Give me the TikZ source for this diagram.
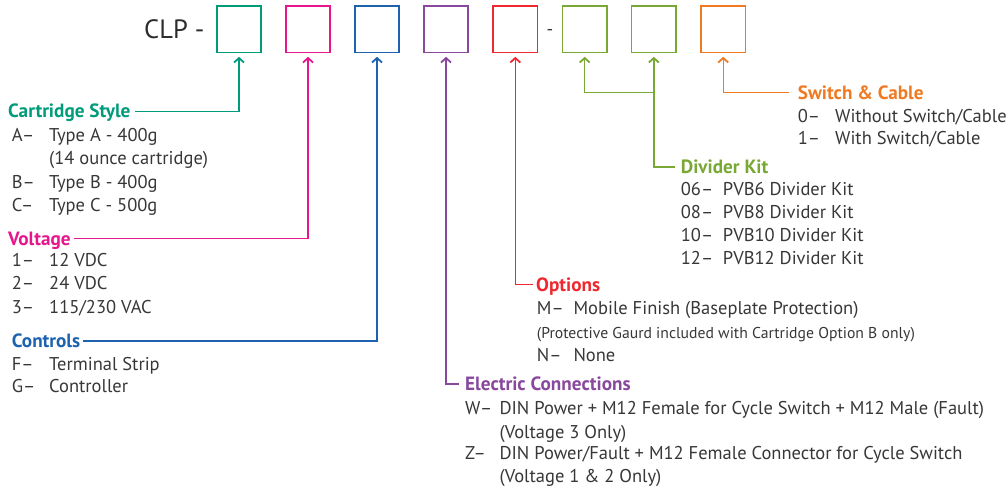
\documentclass[tikz,border=0pt]{standalone}
\usepackage{fontspec}
\setmainfont{PT Sans}
\usetikzlibrary{arrows.meta}
\definecolor{cteal}{RGB}{0,155,122}
\definecolor{cpink}{RGB}{232,22,140}
\definecolor{cblue}{RGB}{30,98,175}
\definecolor{cpurple}{RGB}{137,72,157}
\definecolor{cred}{RGB}{238,40,46}
\definecolor{cgreen}{RGB}{122,168,52}
\definecolor{corange}{RGB}{240,122,34}
\definecolor{ctext}{RGB}{55,55,55}
\begin{document}
\begin{tikzpicture}[x=1pt,y=-1pt,
  box/.style={draw, line width=1.6pt, minimum width=44.4pt, minimum height=46.4pt, inner sep=0pt},
  conn/.style={line width=1.4pt},
  barb/.style={{Straight Barb[length=4.5pt,width=10pt,line width=1.8pt]}-},
  txt/.style={anchor=west, inner xsep=0pt, inner ysep=0pt, text height=12.95pt, text depth=0pt, text=ctext, font=\fontsize{18.5}{21}\selectfont},
  small/.style={txt, text height=11pt, font=\fontsize{15.7}{18}\selectfont},
  head/.style={txt, text height=13.4pt, font=\fontsize{19.2}{22}\selectfont\bfseries}
]
\useasboundingbox (0,0) rectangle (1008,488);

% title
\node[txt, text height=18.5pt, font=\fontsize{26.5}{30}\selectfont, text=ctext!80!black] (clp) at (144,29.3) {CLP -};
\node[box, cteal]   (b1) at (239,29.3) {};
\node[box, cpink]   (b2) at (308,29.3) {};
\node[box, cblue]   (b3) at (377,29.3) {};
\node[box, cpurple] (b4) at (446,29.3) {};
\node[box, cred]    (b5) at (515.3,29.3) {};
\node[txt] (dash) at (546.3,29.3) {-};
\node[box, cgreen]  (b6) at (584.7,29.3) {};
\node[box, cgreen]  (b7) at (653.8,29.3) {};
\node[box, corange] (b8) at (723.2,29.3) {};

% Cartridge Style
\node[head, text=cteal] (hcart) at (8,111.2) {Cartridge Style};
\node[txt] (ca1) at (11.7,135) {A–};
\node[txt] (ca2) at (49,135) {Type A - 400g};
\node[txt] (ca3) at (49,158) {(14 ounce cartridge)};
\node[txt] (cb1) at (11.7,181.7) {B–};
\node[txt] (cb2) at (49,181.7) {Type B - 400g};
\node[txt] (cc1) at (11.7,205) {C–};
\node[txt] (cc2) at (49,205) {Type C - 500g};

% Voltage
\node[head, text=cpink] (hvolt) at (8,238.3) {Voltage};
\node[txt] (v11) at (11.7,260) {1–};
\node[txt] (v12) at (49,260) {12 VDC};
\node[txt] (v21) at (11.7,282.7) {2–};
\node[txt] (v22) at (49,282.7) {24 VDC};
\node[txt] (v31) at (11.7,307.3) {3–};
\node[txt] (v32) at (49,307.3) {115/230 VAC};

% Controls
\node[head, text=cblue] (hctrl) at (11.7,341) {Controls};
\node[txt] (f1) at (11.7,364) {F–};
\node[txt] (f2) at (49,364) {Terminal Strip};
\node[txt] (g1) at (11.7,385.7) {G–};
\node[txt] (g2) at (49,385.7) {Controller};

% Options
\node[head, text=cred] (hopt) at (536,284.3) {Options};
\node[txt] (m1) at (536.7,308.3) {M–};
\node[txt] (m2) at (573.3,308.3) {Mobile Finish (Baseplate Protection)};
\node[small] (m3) at (536.7,333.3) {(Protective Gaurd included with Cartridge Option B only)};
\node[txt] (n1) at (536.7,355) {N–};
\node[txt] (n2) at (573.3,355) {None};

% Electric Connections
\node[head, text=cpurple] (helec) at (465,384) {Electric Connections};
\node[txt] (w1) at (465,408.3) {W–};
\node[txt] (w2) at (499.3,408.3) {DIN Power + M12 Female for Cycle Switch + M12 Male (Fault)};
\node[txt] (w3) at (499.3,431.7) {(Voltage 3 Only)};
\node[txt] (z1) at (465,453.3) {Z–};
\node[txt] (z2) at (499.3,453.3) {DIN Power/Fault + M12 Female Connector for Cycle Switch};
\node[txt] (z3) at (499.3,476) {(Voltage 1 \& 2 Only)};

% Switch & Cable
\node[head, text=corange] (hsw) at (797.7,92.3) {Switch \& Cable};
\node[txt] (s01) at (797.7,115.7) {0–};
\node[txt] (s02) at (835,115.7) {Without Switch/Cable};
\node[txt] (s11) at (797.7,138.3) {1–};
\node[txt] (s12) at (835,138.3) {With Switch/Cable};

% Divider Kit
\node[head, text=cgreen] (hdiv) at (680.7,167) {Divider Kit};
\node[txt] (d061) at (680.7,189.3) {06–};
\node[txt] (d062) at (722.7,189.3) {PVB6 Divider Kit};
\node[txt] (d081) at (680.7,212.3) {08–};
\node[txt] (d082) at (722.7,212.3) {PVB8 Divider Kit};
\node[txt] (d101) at (680.7,235) {10–};
\node[txt] (d102) at (722.7,235) {PVB10 Divider Kit};
\node[txt] (d121) at (680.7,257.7) {12–};
\node[txt] (d122) at (722.7,257.7) {PVB12 Divider Kit};

% connectors
\draw[conn, barb, cteal]   ([yshift=-3.5pt]b1.south) |- ([xshift=4pt]hcart.east);
\draw[conn, barb, cpink]   ([yshift=-3.5pt]b2.south) |- ([xshift=3pt]hvolt.east);
\draw[conn, barb, cblue]   ([yshift=-3.5pt]b3.south) |- ([xshift=3pt]hctrl.east);
\draw[conn, barb, cpurple] ([yshift=-3.5pt]b4.south) |- ([xshift=-6pt]helec.west);
\draw[conn, barb, cred]    ([yshift=-3.5pt]b5.south) |- ([xshift=-3pt]hopt.west);
\coordinate (gj) at (b7.south |- 0,92.3);
\draw[conn, barb, cgreen]  ([yshift=-3.5pt]b6.south) |- (gj);
\draw[conn, barb, cgreen]  ([yshift=-3.5pt]b7.south) |- ([xshift=-5.5pt]hdiv.west);
\draw[conn, barb, corange] ([yshift=-3.5pt]b8.south) |- ([xshift=-9pt]hsw.west);
\end{tikzpicture}
\end{document}
